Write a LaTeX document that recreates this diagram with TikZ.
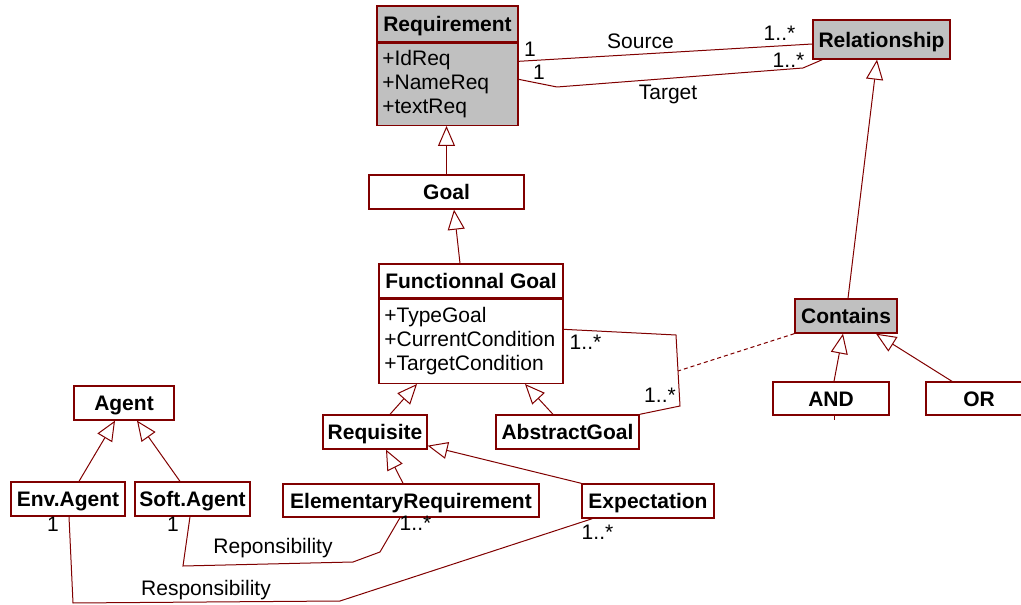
\documentclass[tikz,border=0pt]{standalone}
\usepackage{fontspec}
\setmainfont{Liberation Sans}
\usetikzlibrary{arrows.meta,calc}
\definecolor{umlred}{RGB}{128,0,0}
\definecolor{umlgrey}{RGB}{192,192,192}
\tikzset{
    umlfont/.style={font=\fontsize{15.75}{18}\selectfont},
    sz/.style 2 args={minimum width=#1*0.75pt, minimum height=#2*0.75pt},
    classbox/.style={draw=umlred, line width=1pt, fill=white, font=\fontsize{15.75}{18}\selectfont\bfseries,
            inner sep=0pt, text height=11.3pt, text depth=0pt},
    attrbox/.style={draw=umlred, line width=1pt, fill=white, umlfont, align=left,
            inner xsep=4pt, inner ysep=0pt},
    gen/.style={draw=umlred, line width=0.75pt, -{Triangle[open, length=15pt, width=12.75pt]}},
    assoc/.style={draw=umlred, line width=0.75pt},
    assocdash/.style={assoc, dash pattern=on 3pt off 2.25pt},
    mult/.style={umlfont, inner sep=0pt, anchor=base},
}

\begin{document}
\begin{tikzpicture}[x=0.75pt, y=-0.75pt]
        \useasboundingbox (0,0) rectangle (1021,605);
        \clip (0,0) rectangle (1021,605);
        %draw classes
        \node[classbox, fill=umlgrey, sz={141}{36}] (req) at (447.5,24) {Requirement};
        \node[attrbox, fill=umlgrey, text width=97.75pt, minimum height=61.5pt, anchor=north] (reqattr) at (req.south) {+IdReq\\+NameReq\\+textReq};
        \node[classbox, fill=umlgrey, sz={137}{39}] (rel) at (881.5,39.5) {Relationship};
        \node[classbox, sz={155}{34}] (goal) at (446.5,192) {Goal};
        \node[classbox, sz={184}{34}] (fg) at (471,281) {Functionnal Goal};
        \node[attrbox, text width=130pt, minimum height=63pt, anchor=north] (fgattr) at (fg.south) {+TypeGoal\\+CurrentCondition\\+TargetCondition};
        \node[classbox, fill=umlgrey, sz={102}{34}] (contains) at (846,316) {Contains};
        \node[classbox, sz={116}{33}] (and) at (831,398.5) {AND};
        \node[classbox, sz={106}{33}] (or) at (979,398.5) {OR};
        \node[classbox, sz={100}{34}] (agent) at (124,403) {Agent};
        \node[classbox, sz={114}{34}] (envagent) at (68,499) {Env.Agent};
        \node[classbox, sz={115}{34}] (softagent) at (192.5,499) {Soft.Agent};
        \node[classbox, sz={104}{34}] (requisite) at (375,432) {Requisite};
        \node[classbox, sz={143}{34}] (abstract) at (567.5,432) {AbstractGoal};
        \node[classbox, sz={256}{33}] (elemreq) at (411,500.5) {ElementaryRequirement};
        \node[classbox, sz={132}{34}] (expect) at (648,501) {Expectation};
        %draw generalizations
        \draw[gen] (goal.north) -- (goal.north |- reqattr.south);
        \draw[gen] ($(fg.north)+(-11,0)$) -- ($(goal.south)+(7.5,0)$);
        \draw[gen] ($(requisite.north)+(15,0)$) -- ($(fgattr.south)+(-54,0)$);
        \draw[gen] ($(abstract.north)+(-14.5,0)$) -- ($(fgattr.south)+(54,0)$);
        \draw[gen] ($(elemreq.north)+(-8,0)$) -- ($(requisite.south)+(11,0)$);
        \draw[gen] (expect.north west) -- ($(requisite.south east)+(0,-4)$);
        \draw[gen] ($(envagent.north)+(11,0)$) -- ($(agent.south)+(-9,0)$);
        \draw[gen] ($(softagent.north)+(-12.5,0)$) -- ($(agent.south)+(13,0)$);
        \draw[gen] ($(contains.north)+(2,0)$) -- ($(rel.south)+(-4.5,0)$);
        \draw[gen] ($(and.north)+(3,0)$) -- ($(contains.south)+(-3,0)$);
        \draw[gen] ($(or.north)+(-27,0)$) -- ($(contains.south)+(30,0)$);
        %draw associations
        \coordinate (mid) at (678,371);
        \draw[assoc] ($(reqattr.east)+(0,-23)$) -- ($(rel.west)+(0,4.5)$);
        \draw[assoc] ($(reqattr.east)+(0,-5)$) -- (557,87) -- (803,68) -- ($(rel.south west)+(10,0)$);
        \draw[assoc] ($(fgattr.east)+(0,-12)$) -- (676,335) -- (mid) -- (680,406) -- (abstract.north east);
        \draw[assocdash] (contains.south west) -- (mid);
        \draw[assoc] ($(and.south)+(3,0)$) -- ++(0,4);
        \draw[assoc] ($(softagent.south)+(-2.5,0)$) -- (183,566) -- (353,562) -- (380,552) -- ($(elemreq.south)+(-11,0)$);
        \draw[assoc] ($(envagent.south)+(1,0)$) -- (73,603) -- (340,601) -- ($(expect.south west)+(11,0)$);
        %draw labels
        \node[mult] (srcone) at (530,57) {1};
        \node[mult] (srcmany) at (779.5,41) {1..*};
        \node[mult] (srcname) at (640.5,49) {Source};
        \node[mult] (tgtone) at (539,80) {1};
        \node[mult] (tgtmany) at (788.5,68) {1..*};
        \node[mult] (tgtname) at (668,100) {Target};
        \node[mult] (fgmany) at (585.5,350) {1..*};
        \node[mult] (agmany) at (660,403) {1..*};
        \node[mult] (ermany) at (415.5,531) {1..*};
        \node[mult] (expmany) at (597.5,540) {1..*};
        \node[mult] (envone) at (53,532) {1};
        \node[mult] (softone) at (173,532) {1};
        \node[mult] (reponame) at (273,554) {Reponsibility};
        \node[mult] (respname) at (206,595) {Responsibility};
    \end{tikzpicture}
\end{document}
